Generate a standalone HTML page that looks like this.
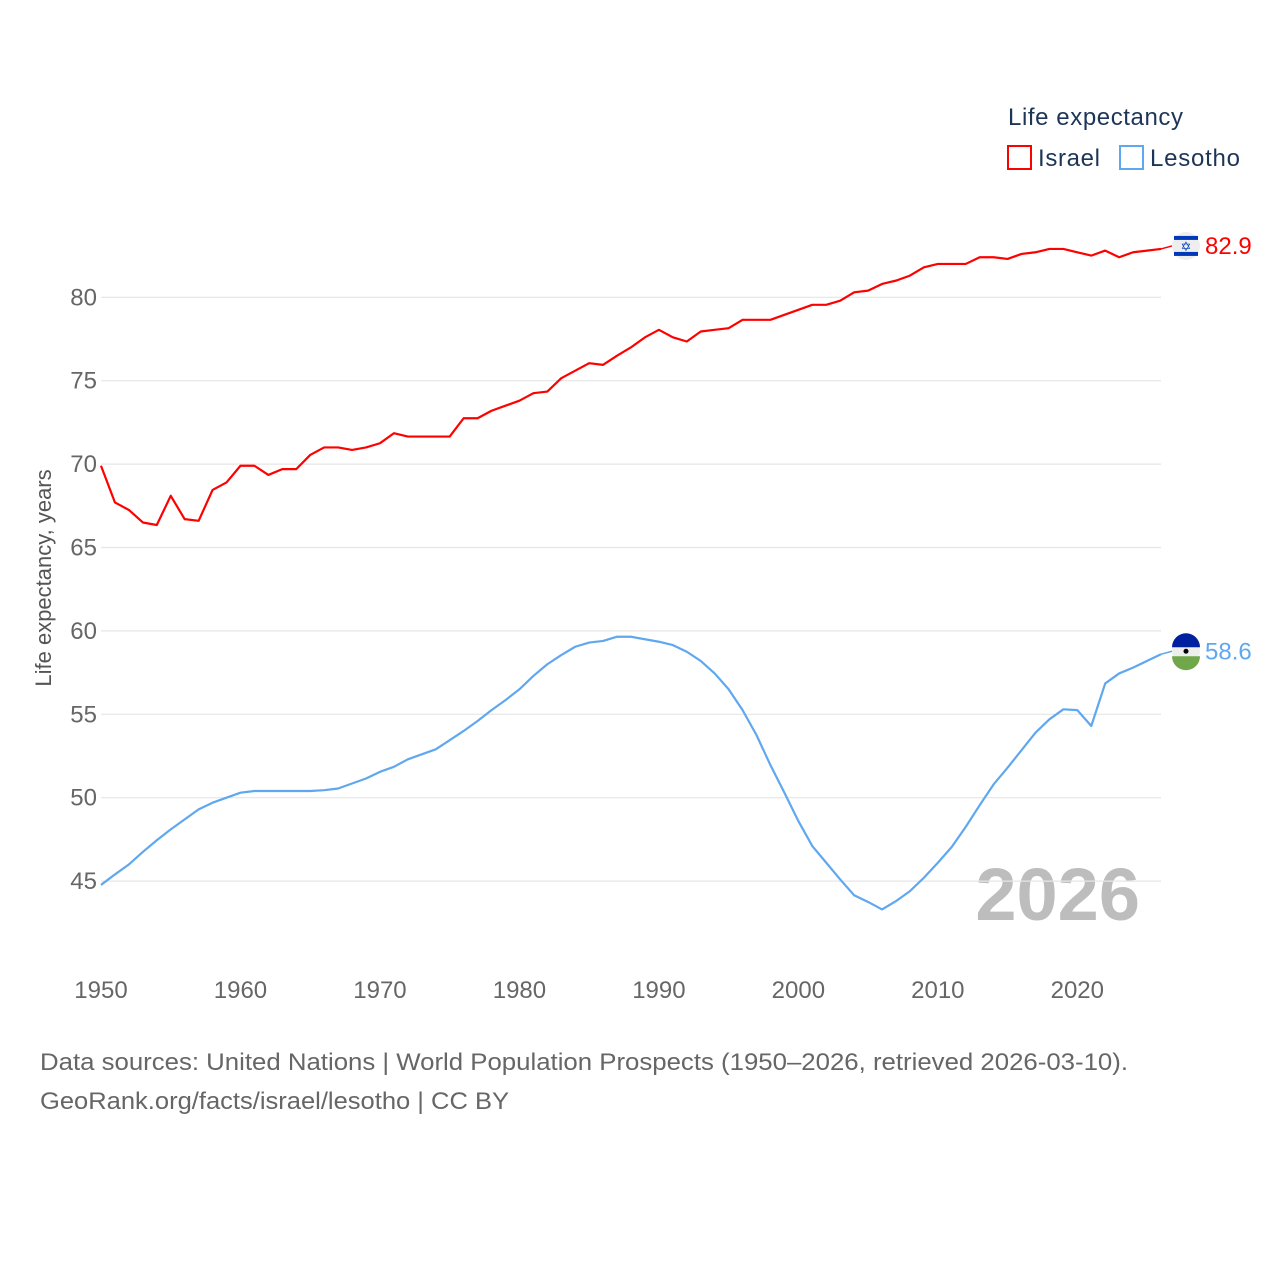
<!DOCTYPE html>
<html><head><meta charset="utf-8"><style>
body{margin:0;background:#fff;font-family:"Liberation Sans",sans-serif;}
svg{display:block}
</style></head><body>
<svg id="chart" width="1280" height="1280" xmlns="http://www.w3.org/2000/svg">
<text x="1008" y="125" font-size="24" fill="#1d3557" textLength="175">Life expectancy</text>
<g>
<rect x="1008" y="146" width="23" height="23" fill="none" stroke="#ff0000" stroke-width="2"/>
<text x="1038" y="166" font-size="24" fill="#1d3557" textLength="62">Israel</text></g>
<g>
<rect x="1120" y="146" width="23" height="23" fill="none" stroke="#5fa8ef" stroke-width="2"/>
<text x="1150" y="166" font-size="24" fill="#1d3557" textLength="90">Lesotho</text></g>
<text transform="translate(51,578) rotate(-90)" text-anchor="middle" font-size="22" fill="#555">Life expectancy, years</text>
<text x="1140" y="920" text-anchor="end" font-size="74" font-weight="bold" fill="#bdbdbd">2026</text>
<g id="grid"></g><g id="xt"></g><g id="lines"></g>
<text x="40" y="1070" font-size="24" fill="#666" textLength="1088" lengthAdjust="spacingAndGlyphs">Data sources: United Nations | World Population Prospects (1950–2026, retrieved 2026-03-10).</text>
<text x="40" y="1109" font-size="24" fill="#666" textLength="469" lengthAdjust="spacingAndGlyphs">GeoRank.org/facts/israel/lesotho | CC BY</text>
</svg>
<script>
const years=[];for(let y=1950;y<=2026;y++)years.push(y);
const israel=[69.9,67.7,67.25,66.5,66.35,68.1,66.7,66.6,68.45,68.9,69.9,69.9,69.35,69.7,69.7,70.55,71.0,71.0,70.85,71.0,71.25,71.85,71.65,71.65,71.65,71.65,72.75,72.75,73.2,73.5,73.8,74.25,74.35,75.15,75.6,76.05,75.95,76.5,77.0,77.6,78.05,77.6,77.35,77.95,78.05,78.15,78.65,78.65,78.65,78.95,79.25,79.55,79.55,79.8,80.3,80.4,80.8,81.0,81.3,81.8,82.0,82.0,82.0,82.4,82.4,82.3,82.6,82.7,82.9,82.9,82.7,82.5,82.8,82.4,82.7,82.8,82.9];
const lesotho=[44.77,45.4,46.0,46.75,47.45,48.1,48.7,49.3,49.7,50.0,50.3,50.4,50.4,50.4,50.4,50.4,50.45,50.55,50.85,51.15,51.55,51.85,52.3,52.6,52.9,53.45,54.0,54.6,55.25,55.85,56.5,57.3,58.0,58.55,59.05,59.3,59.4,59.65,59.65,59.5,59.35,59.15,58.75,58.2,57.45,56.5,55.25,53.75,51.95,50.3,48.6,47.1,46.1,45.1,44.15,43.75,43.3,43.8,44.4,45.2,46.1,47.05,48.25,49.55,50.8,51.8,52.85,53.9,54.7,55.3,55.25,54.3,56.85,57.45,57.8,58.2,58.6];
const yTicks=[45,50,55,60,65,70,75,80];
const xTicks=[1950,1960,1970,1980,1990,2000,2010,2020];
const NS="http://www.w3.org/2000/svg";
const xs=y=>101+(y-1950)*(1161-101)/76;
const ys=v=>297.3+(80-v)*16.68;
function mk(t,a,p){const e=document.createElementNS(NS,t);for(const k in a)e.setAttribute(k,a[k]);p.appendChild(e);return e;}
const grid=document.getElementById('grid');
yTicks.forEach(v=>{
 const l=mk('line',{x1:101,x2:1161,y1:ys(v),y2:ys(v),stroke:'#e6e6e6','stroke-width':1.2},grid);
 
 
 const t=mk('text',{x:97,y:ys(v)+8,'text-anchor':'end','font-size':24,fill:'#666'},grid);
 t.textContent=v;
 
 
});
const xt=document.getElementById('xt');
xTicks.forEach(y=>{
 const t=mk('text',{x:xs(y),y:998,'text-anchor':'middle','font-size':24,fill:'#666'},xt);
 t.textContent=y;
 
 
});
const lines=document.getElementById('lines');
function series(vals,color,name,flag){
 const p=mk('polyline',{points:vals.map((v,i)=>xs(years[i])+','+ys(v)).join(' '),fill:'none',stroke:color,'stroke-width':2.2,'stroke-linejoin':'round'},lines);
 
 
 const last=vals[vals.length-1],cy=ys(last)-3;
 mk('line',{x1:1161,x2:1172,y1:ys(last),y2:cy,stroke:color,'stroke-width':1.5},lines);
 const g=mk('g',{},lines);
 
 
 mk('circle',{cx:1186,cy:cy,r:14,fill:'#eee'},g);
 if(flag==='il'){
  mk('rect',{x:1174,y:cy-10,width:24,height:4,fill:'#0038b8'},g);
  mk('rect',{x:1174,y:cy+6,width:24,height:4,fill:'#0038b8'},g);
  const s=mk('text',{x:1186,y:cy+5,'text-anchor':'middle','font-size':13,fill:'#0038b8'},g);s.textContent='✡';
 }else{
  mk('path',{d:`M1172 ${cy-4} A14 14 0 0 1 1200 ${cy-4} Z`,fill:'#00209f'},g);
  mk('path',{d:`M1172 ${cy+5} A14 14 0 0 0 1200 ${cy+5} Z`,fill:'#6fa74a'},g);
  mk('circle',{cx:1186,cy:cy,r:2.5,fill:'#000'},g);
 }
 const t=mk('text',{x:1205,y:cy+8,'font-size':24,fill:color},lines);
 t.textContent=last.toFixed(1);
 
 
}
series(israel,'#ff0000','israel','il');
series(lesotho,'#5fa8ef','lesotho','ls');
</script>
</body></html>
